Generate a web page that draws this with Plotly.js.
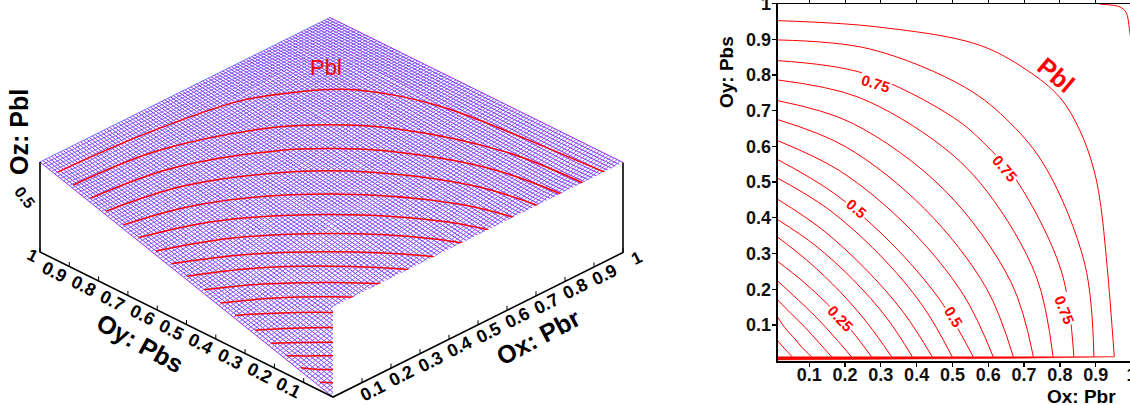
<!DOCTYPE html>
<html><head><meta charset="utf-8">
<script src="https://cdn.plot.ly/plotly-3.0.1.min.js"></script>
<style>html,body{margin:0;padding:0;background:#fff;overflow:hidden;width:1130px;height:405px}
#p{position:absolute;left:0;top:-20px;width:1200px;height:445px}</style></head>
<body><div id="p"></div>
<script>
// contour curves, lowest (1) to highest (17), in Pbr / Pbs
const x01=[.012,.03,.0526], y01=[.056,.035,.011];
const x02=[.012,.032,.0567,.0805,.1066], y02=[.122,.092,.0649,.0366,.011];
const x03=[.012,.0488,.0889,.1266,.1625], y03=[.17,.1324,.093,.051,.011];
const x04=[.012,.0654,.1192,.1698,.218], y04=[.223,.1737,.122,.0669,.011];
const x05=[.012,.0822,.1537,.2189,.274], y05=[.278,.2221,.156,.0834,.011];
const x06=[.012,.099,.1851,.2637,.33], y06=[.346,.2765,.1941,.1038,.011];
const x07=[.012,.1164,.2227,.3174,.388], y07=[.395,.3231,.2267,.1185,.011];
const x08=[.012,.1331,.2546,.3629,.4436], y08=[.452,.3697,.2594,.1356,.011];
const x09=[.012,.15,.2932,.4171,.4995], y09=[.511,.4267,.3,.1533,.011];
const x10=[.012,.1674,.3275,.4659,.558], y10=[.563,.4701,.3305,.1689,.011];
const x11=[.012,.1842,.3745,.5305,.614], y11=[.616,.5322,.3758,.1848,.011];
const x12=[.012,.201,.4221,.595,.67], y12=[.675,.5994,.4253,.2025,.011];
const x13=[.012,.2178,.477,.6643,.726], y13=[.728,.6661,.4783,.2184,.011];
const x14=[.012,.2343,.4686,.5982,.7341,.781], y14=[.786,.7388,.6021,.4716,.2358,.011];
const x15=[.012,.2517,.5034,.5982,.6796,.8038,.839], y15=[.84,.8047,.6804,.5989,.504,.252,.011];
const x16=[.012,.2685,.537,.6623,.7616,.8699,.895], y16=[.898,.8729,.7642,.6645,.5388,.2694,.011];
const x17=[.012,.2856,.571,.707,.8,.856,.893,.912,.932,.952], y17=[.952,.935,.885,.814,.737,.644,.542,.449,.263,.011];
const cornerX=[.912,.94,.968,.985,.994,1], cornerY=[.998,.996,.99,.975,.93,.88];
const wedgeX=[.012,.952,.7,.3,.012], wedgeY=[.011,.011,.007,.004,.002];
const contourXs=[x01,x02,x03,x04,x05,x06,x07,x08,x09,x10,x11,x12,x13,x14,x15,x16,x17];
const contourYs=[y01,y02,y03,y04,y05,y06,y07,y08,y09,y10,y11,y12,y13,y14,y15,y16,y17];
// height of each contour in the 3D panel
const contourZ=[.055,.11,.165,.22,.275,.33,.39,.445,.5,.555,.61,.665,.72,.78,.835,.89,.945];
// surface height at Pbr, Pbs = 0, .1 ... 1
const surfaceZ=[
[0,.1,.2,.3,.4,.5,.6,.7,.8,.9,1],
[.1,.18,.27,.354,.44,.53,.627,.714,.8,.888,1],
[.2,.27,.36,.425,.507,.583,.67,.747,.8175,.9,1],
[.3,.354,.425,.507,.567,.64,.71,.77,.84,.915,1],
[.4,.44,.507,.567,.64,.69,.747,.807,.867,.93,1],
[.5,.53,.583,.64,.69,.736,.78,.834,.883,.94,1],
[.6,.627,.67,.71,.747,.78,.823,.867,.91,.965,1],
[.7,.714,.747,.77,.807,.834,.867,.91,.93,.98,1],
[.8,.8,.8175,.84,.867,.883,.91,.93,.96,.985,1],
[.9,.888,.9,.915,.93,.94,.965,.98,.985,.99,1],
[1,1,1,1,1,1,1,1,1,1,1]];
const tickVals=[.1,.2,.3,.4,.5,.6,.7,.8,.9,1];
const tickText=['0.1','0.2','0.3','0.4','0.5','0.6','0.7','0.8','0.9','1'];
const labelText=['0.75','0.75','0.75','0.5','0.5','0.25'];
const labelX=[.2863,.6466,.8142,.2324,.5023,.1877];
const labelY=[.775,.5374,.1416,.4257,.1229,.1184];
const labelAngle=[17,50,68,40,58,47];
const meshStep=.01;

const FONT='"Liberation Sans", Arial, sans-serif';
const RED='#ff0000';
const proj=(x,y,z)=>[333+290*x-293*y, 397-144.5*x-145*y-90*z];
function path3(pts){const X=[],Y=[];pts.forEach(p=>{if(!p){X.push(null);Y.push(null);return;}const q=proj(p[0],p[1],p[2]);X.push(q[0]);Y.push(q[1]);});return {x:X,y:Y};}
function zAt(x,y){const i=Math.min(9,Math.floor(x*10)),j=Math.min(9,Math.floor(y*10)),u=x*10-i,v=y*10-j;
 return (1-u)*(1-v)*surfaceZ[j][i]+u*(1-v)*surfaceZ[j][i+1]+(1-u)*v*surfaceZ[j+1][i]+u*v*surfaceZ[j+1][i+1];}
const pc={xaxis:'x2',yaxis:'y2',mode:'lines',hoverinfo:'skip',showlegend:false};
const data=[];
// surface mesh: blue lines at constant Pbs, purple at constant Pbr
const blue=[],purple=[];
for(let k=0;k<=Math.round(1/meshStep);k++){const t=k*meshStep;
 for(let m=0;m<=10;m++){const s=m/10;blue.push([s,t,zAt(s,t)]);purple.push([t,s,zAt(t,s)]);}
 blue.push(null);purple.push(null);}
data.push(Object.assign({},pc,path3(purple),{line:{color:'#a000e6',width:.9}}));
data.push(Object.assign({},pc,path3(blue),{line:{color:'#5a6cff',width:.9}}));
// contours on the surface
contourXs.forEach((cx,i)=>{
 const pts=cx.map((v,k)=>[v,contourYs[i][k],contourZ[i]]);
 data.push(Object.assign({},pc,path3(pts),{line:{color:RED,width:1.5,shape:'spline',smoothing:1}}));
});
// front wall at Pbs = 0
data.push(Object.assign({},pc,path3([[0,0,0],[1,0,0],[1,0,1],[0,0,1],[0,0,0]]),{fill:'toself',fillcolor:'#fff',line:{color:'rgba(0,0,0,0)',width:0}}));
// box axes
data.push(Object.assign({},pc,path3([[1,0,1],[1,0,0],[0,0,0],[0,1,0],[0,1,1]]),{line:{color:'#000',width:1.6}}));
// axis ticks
const tk=[];tickVals.forEach(v=>{tk.push([v,0,0],[v,0,.05],null,[0,v,0],[0,v,.05],null);});
data.push(Object.assign({},pc,path3(tk),{line:{color:'#000',width:1}}));
// right panel
data.push({x:wedgeX,y:wedgeY,mode:'lines',fill:'toself',fillcolor:RED,line:{color:RED,width:.5},hoverinfo:'skip',showlegend:false});
contourXs.forEach((cx,i)=>data.push({x:cx,y:contourYs[i],mode:'lines',line:{color:RED,width:1,shape:'spline',smoothing:1},hoverinfo:'skip',showlegend:false}));
data.push({x:cornerX,y:cornerY,mode:'lines',line:{color:RED,width:1,shape:'spline',smoothing:1},hoverinfo:'skip',showlegend:false});
data.push({x:[.5],y:[.5],xaxis:'x3',mode:'markers',marker:{size:1,opacity:0},hoverinfo:'skip',showlegend:false});

const ann=[];
function pageText(px,py,text,size,angle,color,extra){ann.push(Object.assign({xref:'x2',yref:'y2',x:px,y:py,text:text,showarrow:false,textangle:angle,font:{family:FONT,size:size,color:color||'#000'}},extra||{}));}
tickVals.forEach((v,i)=>{
 const a=proj(v,0,0),b=proj(0,v,0);
 pageText(a[0]+(v===1?13:10),a[1]+(v===1?6:8),'<b>'+tickText[i]+'</b>',v===1?17:18,-27);
 pageText(b[0]+(v===1?-8:-15),b[1]+(v===1?3:5),'<b>'+tickText[i]+'</b>',v===1?17:18,27);
});
pageText(25,197,'<b>0.5</b>',16,52);
pageText(19,132,'<b>Oz: Pbl</b>',25,-90);
pageText(140,343,'<b>Oy: Pbs</b>',25,29);
pageText(538,337,'<b>Ox: Pbr</b>',25,-28);
pageText(326,67,'Pbl',22,0,RED);
pageText(726,72,'<b>Oy: Pbs</b>',19,-90);
pageText(1081.7,396.5,'<b>Ox: Pbr</b>',19,0);
labelText.forEach((t,i)=>ann.push({xref:'x',yref:'y',x:labelX[i],y:labelY[i],text:'<b>'+t+'</b>',showarrow:false,textangle:labelAngle[i],bgcolor:'#fff',borderpad:1,font:{family:FONT,size:15,color:RED}}));
ann.push({xref:'x',yref:'y',x:.791,y:.8008,text:'<b>Pbl</b>',showarrow:false,textangle:40,font:{family:FONT,size:25,color:RED}});

const W=1200,H=445;
const layout={width:W,height:H,margin:{l:0,r:0,t:0,b:0},paper_bgcolor:'#fff',plot_bgcolor:'rgba(0,0,0,0)',showlegend:false,
 font:{family:FONT},
 xaxis:{domain:[777.7/W,1131.5/W],range:[.012,1],tickmode:'array',tickvals:tickVals,ticktext:tickText,ticks:'outside',ticklen:4,tickwidth:1.3,tickcolor:'#000',ticklabelstandoff:-7,showline:true,linecolor:'#000',linewidth:2,showgrid:false,zeroline:false,tickfont:{family:FONT,size:18,color:'#111',weight:700},anchor:'y',fixedrange:true},
 yaxis:{domain:[1-380.7/H,1-23.5/H],range:[0,1],tickmode:'array',tickvals:tickVals,ticktext:tickText,ticks:'outside',ticklen:4,tickwidth:1.3,tickcolor:'#000',ticklabelstandoff:-3,showline:true,linecolor:'#000',linewidth:2,showgrid:false,zeroline:false,tickfont:{family:FONT,size:18,color:'#111',weight:700},anchor:'x',fixedrange:true},
 xaxis3:{overlaying:'x',side:'top',anchor:'y',range:[.012,1],tickmode:'array',tickvals:tickVals,ticks:'outside',ticklen:4,tickwidth:1,tickcolor:'#000',showticklabels:false,showline:true,linecolor:'#000',linewidth:1,showgrid:false,zeroline:false,fixedrange:true},
 xaxis2:{domain:[0,1],range:[0,W],visible:false,anchor:'y2',fixedrange:true},
 yaxis2:{domain:[0,1],range:[425,-20],visible:false,anchor:'x2',fixedrange:true},
 annotations:ann};
Plotly.newPlot('p',data,layout,{displayModeBar:false,staticPlot:true});
</script></body></html>
